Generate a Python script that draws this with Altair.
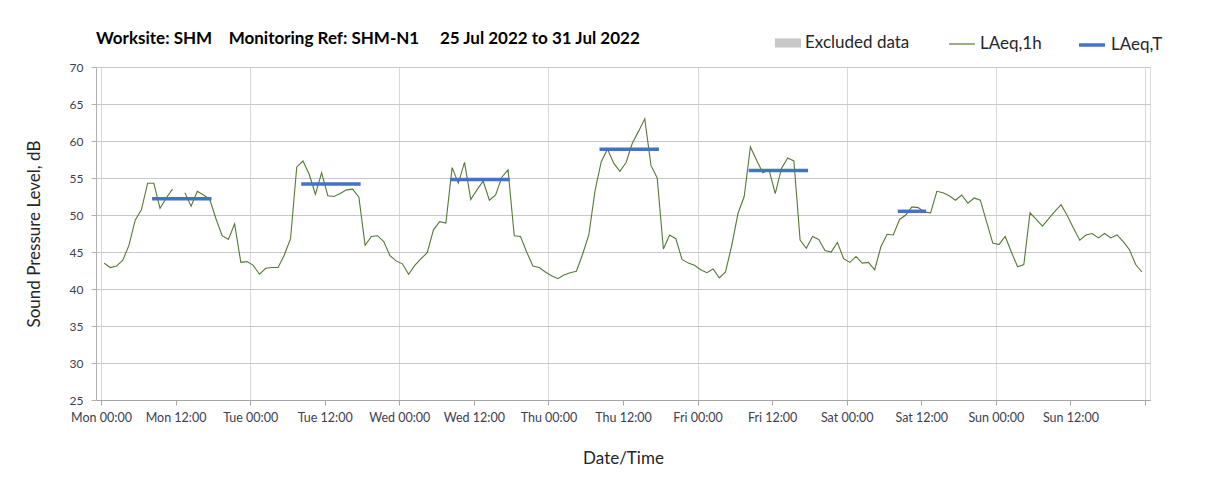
import json
import altair as alt
import pandas as pd

# ---------------- data ----------------
days = ["Mon", "Tue", "Wed", "Thu", "Fri", "Sat", "Sun"]

# hourly LAeq,1h values (hour index 0..167 from Mon 00:00); None = no data
mon = [43.5, 42.9, 43.1, 43.9, 45.9, 49.3, 50.7, 54.3, 54.3, 50.9, 52.3, 53.5,
       None, 53.0, 51.2, 53.2, 52.7, 52.1, 49.5, 47.2, 46.7, 48.8, 43.6, 43.7]
tue = [43.2, 42.0, 42.8, 42.9, 42.9, 44.6, 46.8, 56.5, 57.3, 55.5, 52.8, 55.7,
       52.6, 52.5, 52.9, 53.4, 53.5, 52.4, 45.9, 47.1, 47.2, 46.4, 44.5, 43.8]
wed = [43.4, 42.0, 43.2, 44.1, 44.9, 48.0, 49.1, 48.9, 56.4, 54.3, 57.1, 52.1,
       53.4, 54.6, 52.0, 52.7, 55.1, 56.1, 47.2, 47.1, 45.0, 43.1, 42.9, 42.3]
thu = [41.8, 41.4, 41.9, 42.2, 42.4, 44.7, 47.3, 53.3, 57.2, 58.9, 57.0, 55.9,
       57.1, 59.7, 61.3, 63.0, 56.7, 55.0, 45.4, 47.3, 46.8, 44.0, 43.5, 43.2]
fri = [42.6, 42.2, 42.7, 41.5, 42.3, 45.9, 50.2, 52.5, 59.2, 57.4, 55.7, 56.1,
       52.9, 56.3, 57.7, 57.3, 46.6, 45.5, 47.1, 46.7, 45.2, 45.0, 46.3, 44.1]
sat = [43.6, 44.4, 43.5, 43.6, 42.6, 45.7, 47.4, 47.3, 49.4, 50.0, 51.1, 51.0,
       50.4, 50.3, 53.2, 53.0, 52.6, 52.0, 52.7, 51.6, 52.3, 52.0, 49.1, 46.2]
sun = [46.0, 47.1, 45.0, 43.0, 43.3, 50.3, 49.4, 48.5, 49.5, 50.5, 51.4, 49.9,
       48.2, 46.6, 47.3, 47.5, 46.9, 47.5, 46.9, 47.3, 46.4, 45.3, 43.3, 42.3]
laeq_1h = mon + tue + wed + thu + fri + sat + sun

# LAeq,T periods: day index, first hour, last hour, level
laeqT_day = [0, 1, 2, 3, 4, 5]
laeqT_start = [8, 8, 8, 8, 8, 8]
laeqT_end = [17, 17, 17, 17, 17, 12]
laeqT_value = [52.2, 54.2, 54.8, 58.9, 56.0, 50.5]

excluded_hours = []  # no excluded periods in this week

title_text = ("Worksite: SHM\u00a0\u00a0\u00a0\u00a0Monitoring Ref: SHM-N1"
              "\u00a0\u00a0\u00a0\u00a0\u00a025 Jul 2022 to 31 Jul 2022")

# ---------------- tables ----------------
df1h = pd.DataFrame({"hour": list(range(len(laeq_1h))), "laeq": laeq_1h})
df1h["series"] = "LAeq,1h"

rowsT = []
for d, s, e, v in zip(laeqT_day, laeqT_start, laeqT_end, laeqT_value):
    for h in (s, e):
        rowsT.append({"hour": d * 24 + h, "laeq": v, "period": d, "series": "LAeq,T"})
dfT = pd.DataFrame(rowsT)

dfX = pd.DataFrame({"hour": excluded_hours, "laeq": [70] * len(excluded_hours)})
dfX["series"] = "Excluded data"

FONT = "Lato"
GREEN = "#557a35"
BLUE = "#4472c4"
GREY = "#c8c8c8"

label_expr = ("datum.value >= 168 ? '' : " + json.dumps(days) +
              "[floor(datum.value / 24)] + (datum.value % 24 === 0 ? ' 00:00' : ' 12:00')")

x_enc = alt.X(
    "t:Q",
    scale=alt.Scale(domain=[0, 168], nice=False, zero=False),
    axis=alt.Axis(
        values=list(range(0, 169, 12)),
        labelExpr=label_expr,
        title="Date/Time",
        grid=True,
        gridColor={"condition": {"test": "datum.value % 24 === 0", "value": "#d9d9d9"},
                   "value": "transparent"},
        gridWidth=1,
        domainColor="#a6a6a6",
        tickColor="#a6a6a6",
        tickSize=5,
        labelPadding=6,
        labelFontSize=12.5,
        labelColor="#404050",
        labelFont=FONT,
        titleFont=FONT,
        titleFontSize=17,
        titleFontWeight="normal",
        titleColor="#262626",
        titlePadding=27,
    ),
)

y_enc = alt.Y(
    "laeq:Q",
    scale=alt.Scale(domain=[25, 70], nice=False, zero=False),
    axis=alt.Axis(
        values=list(range(25, 71, 5)),
        title="Sound Pressure Level, dB",
        grid=True,
        gridColor="#c8c8c8",
        domainColor="#b0b0b0",
        tickColor="#b0b0b0",
        tickSize=5,
        labelPadding=8,
        labelFontSize=12,
        labelColor="#404050",
        labelFont=FONT,
        titleFont=FONT,
        titleFontSize=17,
        titleFontWeight="normal",
        titleColor="#262626",
        titlePadding=26,
    ),
)


def legend(x, path, stroke_width):
    return alt.Legend(
        title=None,
        orient="none",
        legendX=x,
        legendY=-37,
        padding=0,
        symbolType=path,
        symbolSize=676,
        symbolStrokeWidth=stroke_width,
        labelFont=FONT,
        labelFontSize=17,
        labelColor="#262626",
        labelOffset=4,
    )


excluded = alt.Chart(dfX).mark_bar(color=GREY).encode(
    x=x_enc,
    y=y_enc,
    color=alt.Color("series:N", scale=alt.Scale(domain=["Excluded data"], range=[GREY]),
                    legend=legend(679, "M-1,-0.35H1V0.35H-1Z", 0)),
).transform_calculate(t="datum.hour + 0.5")

green = alt.Chart(df1h).mark_line(strokeWidth=1.1).encode(
    x=x_enc,
    y=y_enc,
    color=alt.Color("series:N", scale=alt.Scale(domain=["LAeq,1h"], range=[GREEN]),
                    legend=legend(852, "stroke", 1.2)),
).transform_calculate(t="datum.hour + 0.5")

blue = alt.Chart(dfT).mark_line(strokeWidth=3.5, strokeCap="square").encode(
    x=x_enc,
    y=y_enc,
    detail="period:N",
    color=alt.Color("series:N", scale=alt.Scale(domain=["LAeq,T"], range=[BLUE]),
                    legend=legend(981, "stroke", 3.5)),
).transform_calculate(t="datum.hour + 0.5")

chart = alt.layer(excluded, green, blue).resolve_scale(color="independent").properties(
    width=1054,
    height=333,
    autosize=alt.AutoSizeParams(type="none"),
    padding={"left": 88, "top": 59, "right": 50, "bottom": 84},
    title=alt.Title(
        text=title_text,
        anchor="start",
        frame="group",
        font=FONT,
        fontSize=17,
        fontWeight="bold",
        color="#000000",
        baseline="alphabetic",
        offset=22,
        dy=53,
    ),
).configure_view(strokeWidth=0).configure(background="white")

chart.save("out.html", embed_options={"renderer": "svg", "actions": False})
